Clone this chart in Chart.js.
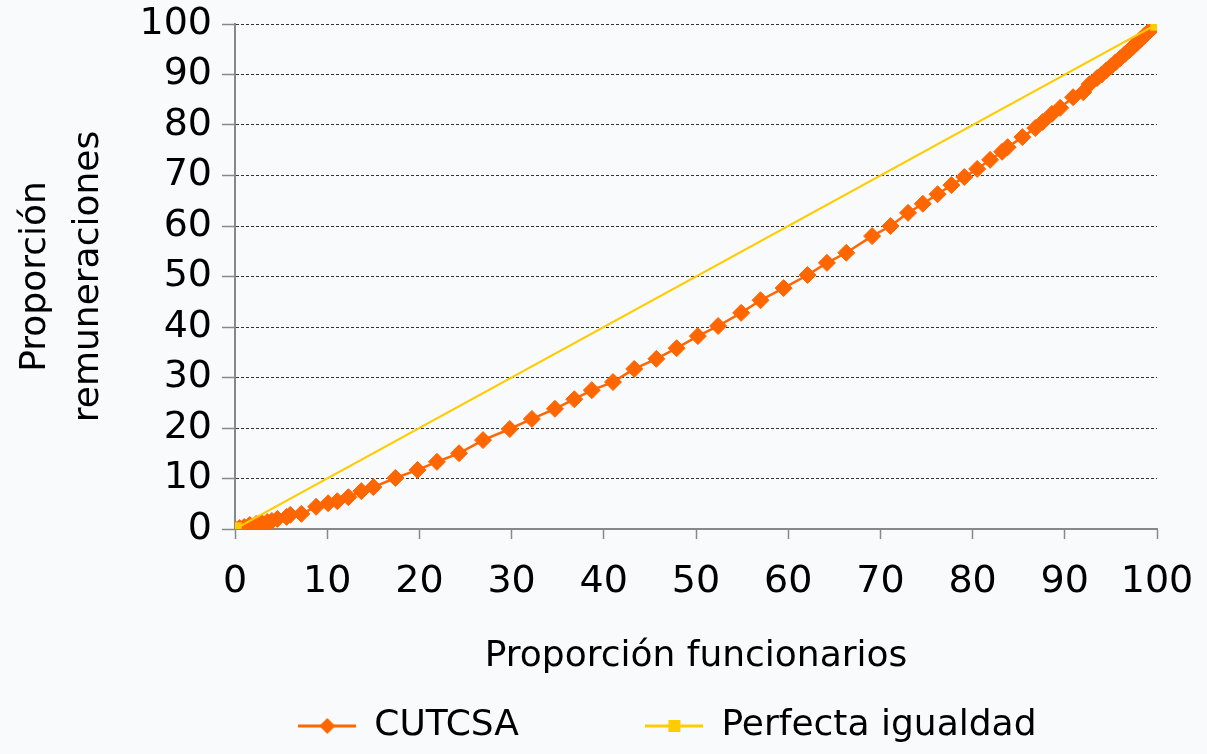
<!DOCTYPE html>
<html lang="es">
<head>
<meta charset="utf-8">
<script src="https://cdn.jsdelivr.net/npm/chart.js@4.4.1/dist/chart.umd.min.js"></script>
<style>
    html, body { margin: 0; padding: 0; background: #f9fafc; }
    #wrap { width: 1207px; height: 754px; }
</style>
</head>
<body>
<div id="wrap"><canvas id="lorenz"></canvas></div>
<script>
// Curva de Lorenz CUTCSA — % funcionarios vs % remuneraciones
const CUTCSA_X = [0, 0.5, 1.0, 1.6, 2.3, 2.9, 3.5, 4.0, 4.6, 5.6, 6.0, 7.2, 8.8, 10.1, 11.1, 12.3, 13.7, 15.0,
    17.4, 19.8, 21.9, 24.3, 26.9, 29.8, 32.2, 34.7, 36.8, 38.7, 41.0, 43.3, 45.7, 47.9, 50.2, 52.4, 54.9,
    57.0, 59.5, 62.1, 64.2, 66.3, 69.1, 71.1, 73.0, 74.6, 76.2, 77.7, 79.1, 80.5, 81.9, 83.2, 83.8, 85.4,
    86.8, 87.6, 88.6, 89.5, 90.9, 92.0, 92.7, 93.5, 94.0, 94.5, 95.0, 95.5, 96.0, 96.5, 97.0, 97.4, 97.8,
    98.2, 98.6, 99.0, 99.4, 99.7, 100];
const CUTCSA_Y = [0, 0.2, 0.4, 0.8, 1.0, 1.2, 1.4, 1.6, 2.0, 2.4, 2.8, 3.0, 4.4, 5.1, 5.5, 6.3, 7.5, 8.3,
    10.1, 11.7, 13.3, 15.0, 17.6, 19.8, 21.8, 23.8, 25.7, 27.5, 29.1, 31.7, 33.7, 35.8, 38.2, 40.2, 42.8,
    45.3, 47.7, 50.3, 52.7, 54.7, 58.0, 60.0, 62.6, 64.4, 66.3, 68.1, 69.7, 71.3, 73.1, 74.7, 75.6, 77.6,
    79.4, 80.6, 82.2, 83.4, 85.5, 86.5, 88.1, 89.3, 90.0, 90.8, 91.6, 92.4, 93.2, 94.0, 94.8, 95.5, 96.2,
    96.9, 97.6, 98.3, 99.0, 99.5, 100];

// Recta de perfecta igualdad
const IGUALDAD_X = [0, 100];
const IGUALDAD_Y = [0, 100];

const AXIS_TICKS = [0, 10, 20, 30, 40, 50, 60, 70, 80, 90, 100];

const ORANGE = '#ff6600';
const YELLOW = '#ffcc00';
const FONT = "'DejaVu Sans', sans-serif";

const toPoints = (xs, ys) => xs.map((x, i) => ({ x, y: ys[i] }));

// Icono de leyenda: línea con marcador al centro
function legendIcon(color, shape) {
    const c = document.createElement('canvas');
    c.width = 58; c.height = 18;
    const g = c.getContext('2d');
    g.strokeStyle = color; g.lineWidth = 3;
    g.beginPath(); g.moveTo(0, 9); g.lineTo(58, 9); g.stroke();
    g.fillStyle = color;
    g.beginPath();
    if (shape === 'diamond') {
        g.moveTo(29, 1); g.lineTo(37, 9); g.lineTo(29, 17); g.lineTo(21, 9);
    } else {
        g.rect(23, 3, 12, 12);
    }
    g.closePath(); g.fill();
    return c;
}

const ICONS = [legendIcon(ORANGE, 'diamond'), legendIcon(YELLOW, 'square')];

new Chart(document.getElementById('lorenz'), {
    type: 'scatter',
    data: {
        datasets: [
            {
                label: 'CUTCSA', data: toPoints(CUTCSA_X, CUTCSA_Y), showLine: true, order: 2,
                borderColor: ORANGE, backgroundColor: ORANGE, borderWidth: 2.5,
                pointStyle: 'rectRot', pointRadius: 8.5, pointBorderWidth: 1,
            },
            {
                label: 'Perfecta igualdad', data: toPoints(IGUALDAD_X, IGUALDAD_Y), showLine: true, order: 1,
                borderColor: YELLOW, backgroundColor: YELLOW, borderWidth: 2,
                pointStyle: 'rect', pointRadius: 9.5, pointBorderWidth: 0,
            },
        ],
    },
    options: {
        responsive: true,
        maintainAspectRatio: false,
        animation: false,
        layout: { padding: { top: 24, right: 50, bottom: 0, left: 0 } },
        plugins: {
            tooltip: { enabled: false },
            legend: {
                position: 'bottom',
                fullSize: false,
                labels: {
                    usePointStyle: true, pointStyleWidth: 58, padding: 12, color: '#000',
                    font: { family: FONT, size: 36 },
                    sort: (a, b) => a.datasetIndex - b.datasetIndex,
                    generateLabels: (chart) => chart.data.datasets.map((ds, i) => ({
                        // espacios duros para separar/centrar los ítems como en el original
                        text: ds.label + '\u00a0'.repeat(i === 0 ? 10 : 5),
                        pointStyle: ICONS[i], datasetIndex: i, fontColor: '#000',
                        fillStyle: ds.backgroundColor, strokeStyle: ds.borderColor, lineWidth: 0,
                    })),
                },
            },
        },
        scales: {
            x: {
                type: 'linear', min: 0, max: 100,
                afterBuildTicks: (s) => { s.ticks = AXIS_TICKS.map(v => ({ value: v })); },
                afterFit: (s) => { s.height = 167; s.paddingLeft = 0; s.paddingRight = 0; },
                ticks: { color: '#000', padding: 20, font: { family: FONT, size: 38 } },
                grid: { drawOnChartArea: false, drawTicks: true, tickLength: 10, tickColor: '#888', tickWidth: 1.5 },
                border: { color: '#888', width: 2 },
                title: {
                    display: true, text: 'Proporción funcionarios', color: '#000',
                    font: { family: FONT, size: 36 }, padding: { top: 0, bottom: 18 },
                },
            },
            y: {
                type: 'linear', min: 0, max: 100,
                afterBuildTicks: (s) => { s.ticks = AXIS_TICKS.map(v => ({ value: v })); },
                afterFit: (s) => { s.width = 235; s.paddingTop = 0; s.paddingBottom = 0; },
                ticks: { color: '#000', padding: 10, font: { family: FONT, size: 38 } },
                grid: {
                    color: (c) => (c.tick && c.tick.value === 0 ? 'rgba(0,0,0,0)' : '#333'),
                    lineWidth: 1, drawTicks: true, tickLength: 13, tickColor: '#888', tickWidth: 1.5, tickBorderDash: [],
                },
                border: { color: '#888', width: 2, dash: [3, 2] },
                title: {
                    display: true, text: ['Proporción', 'remuneraciones'], color: '#000',
                    font: { family: FONT, size: 36, lineHeight: 1.45 }, padding: { top: 10, bottom: 0 },
                },
            },
        },
    },
});
</script>
</body>
</html>
